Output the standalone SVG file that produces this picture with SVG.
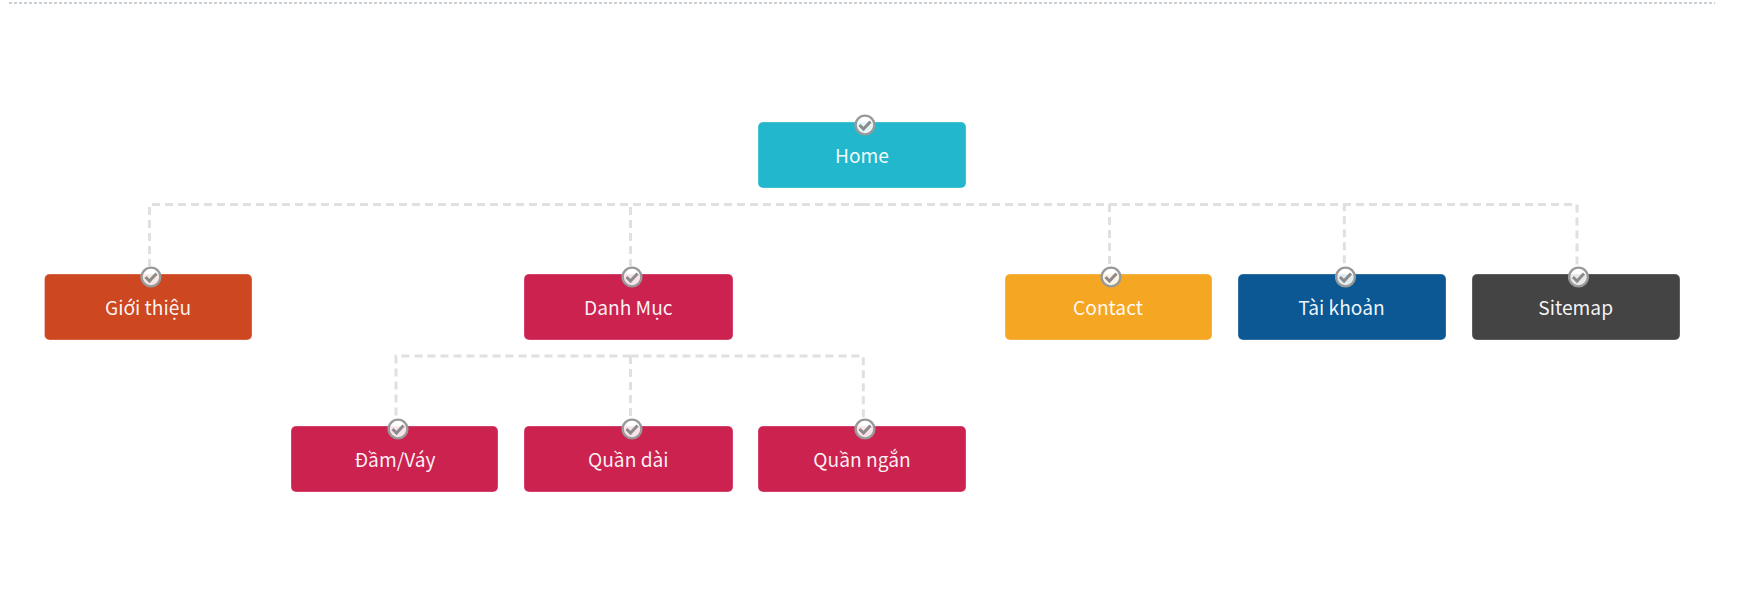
<svg xmlns="http://www.w3.org/2000/svg" width="1744" height="612" viewBox="0 0 1744 612">
<style>
.box{stroke:#fff;stroke-opacity:.3;stroke-width:1}
.lbl{font-family:"Noto Sans CJK SC","Noto Sans",sans-serif;font-size:19.2px;font-weight:400;fill:#fff;fill-opacity:.95;text-anchor:middle}
.conn{fill:none;stroke:#e0e0e0;stroke-width:3;stroke-dasharray:8 5}
.top{fill:none;stroke:#c8d0d6;stroke-width:2;stroke-dasharray:3 2}
.ring{fill:#fff;fill-opacity:.88;stroke:#999;stroke-width:2.400}
.tick{fill:none;stroke:#808080;stroke-width:3;stroke-opacity:.9}
</style>
<defs><g id="chk"><circle class="ring" r="9.400"/><path class="tick" d="M-5.500 0L-1.500 4L5.500-3.500"/></g></defs>
<path class="top" d="M9 3H1715"/>
<g id="connectors">
<path class="conn" d="M862 204.500H149.500V266"/>
<path class="conn" d="M862 204.500H630.500V266"/>
<path class="conn" d="M862 204.500H1109.500V266"/>
<path class="conn" d="M862 204.500H1344.300V266"/>
<path class="conn" d="M862 204.500H1577V266"/>
<path class="conn" d="M630.500 356H396V419"/>
<path class="conn" d="M630.500 356V419"/>
<path class="conn" d="M630.500 356H863.300V419"/>
</g>
<g id="n-home"><rect class="box" x="758" y="122" width="208" height="66" rx="5" fill="#22b7cc"/><text class="lbl" x="862" y="163">Home</text><use href="#chk" x="865" y="125"/></g>
<g id="n-gioithieu"><rect class="box" x="44.500" y="274" width="207.500" height="66" rx="5" fill="#cd4820"/><text class="lbl" x="148" y="315">Giới thiệu</text><use href="#chk" x="151" y="277"/></g>
<g id="n-danhmuc"><rect class="box" x="524" y="274" width="209" height="66" rx="5" fill="#cc2250"/><text class="lbl" x="628.300" y="315">Danh Mục</text><use href="#chk" x="632" y="277"/></g>
<g id="n-contact"><rect class="box" x="1005" y="274" width="207" height="66" rx="5" fill="#f5a623"/><text class="lbl" x="1108" y="315">Contact</text><use href="#chk" x="1111" y="277"/></g>
<g id="n-taikhoan"><rect class="box" x="1238" y="274" width="208" height="66" rx="5" fill="#0b5894"/><text class="lbl" x="1341.500" y="315">Tài khoản</text><use href="#chk" x="1345.500" y="277"/></g>
<g id="n-sitemap"><rect class="box" x="1472" y="274" width="208" height="66" rx="5" fill="#444444"/><text class="lbl" x="1575.700" y="315">Sitemap</text><use href="#chk" x="1578.500" y="277"/></g>
<g id="n-damvay"><rect class="box" x="291" y="426" width="207" height="66" rx="5" fill="#cc2250"/><text class="lbl" x="395" y="467">Đầm/Váy</text><use href="#chk" x="398" y="429"/></g>
<g id="n-quandai"><rect class="box" x="524" y="426" width="209" height="66" rx="5" fill="#cc2250"/><text class="lbl" x="628.300" y="467">Quần dài</text><use href="#chk" x="632" y="429"/></g>
<g id="n-quanngan"><rect class="box" x="758" y="426" width="208" height="66" rx="5" fill="#cc2250"/><text class="lbl" x="862" y="467">Quần ngắn</text><use href="#chk" x="865" y="429"/></g>
</svg>
